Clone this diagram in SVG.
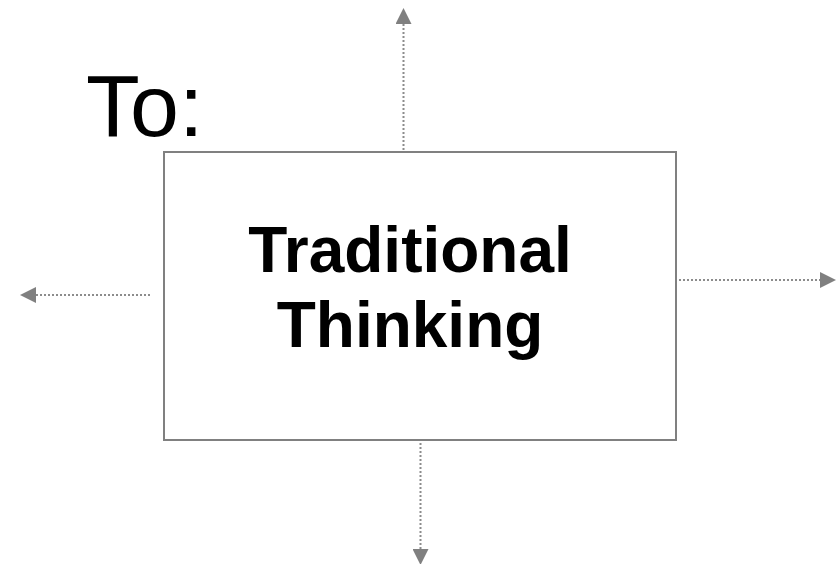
<svg xmlns="http://www.w3.org/2000/svg" width="838" height="564" viewBox="0 0 838 564">
<style>
.conn{stroke:#8c8c8c;stroke-width:2;stroke-dasharray:2,2;fill:none}
.box{fill:#ffffff;stroke:#808080;stroke-width:2}
.t{font-family:"Liberation Sans",Arial,sans-serif;fill:#000}
.lbl{font-size:64px;font-weight:bold;text-anchor:middle}
</style>
<defs>
<marker id="ah" viewBox="0 0 10 10" refX="0" refY="5" markerWidth="16" markerHeight="16" markerUnits="userSpaceOnUse" orient="auto">
<path d="M0,0 L10,5 L0,10 z" fill="#808080"/>
</marker>
</defs>
<rect width="838" height="564" fill="#ffffff"/>
<text class="t" x="86" y="136" font-size="88">To:</text>
<g id="connectors">
<line class="conn" x1="403.5" y1="150" x2="403.5" y2="24" marker-end="url(#ah)"/>
<line class="conn" x1="150" y1="295" x2="36" y2="295" marker-end="url(#ah)"/>
<line class="conn" x1="679" y1="280" x2="820" y2="280" marker-end="url(#ah)"/>
<line class="conn" x1="420.5" y1="443" x2="420.5" y2="549" marker-end="url(#ah)"/>
</g>
<g id="node-traditional">
<rect class="box" x="164" y="152" width="512" height="288"/>
<text class="t lbl" x="410" y="272">Traditional</text>
<text class="t lbl" x="410" y="347">Thinking</text>
</g>
</svg>
